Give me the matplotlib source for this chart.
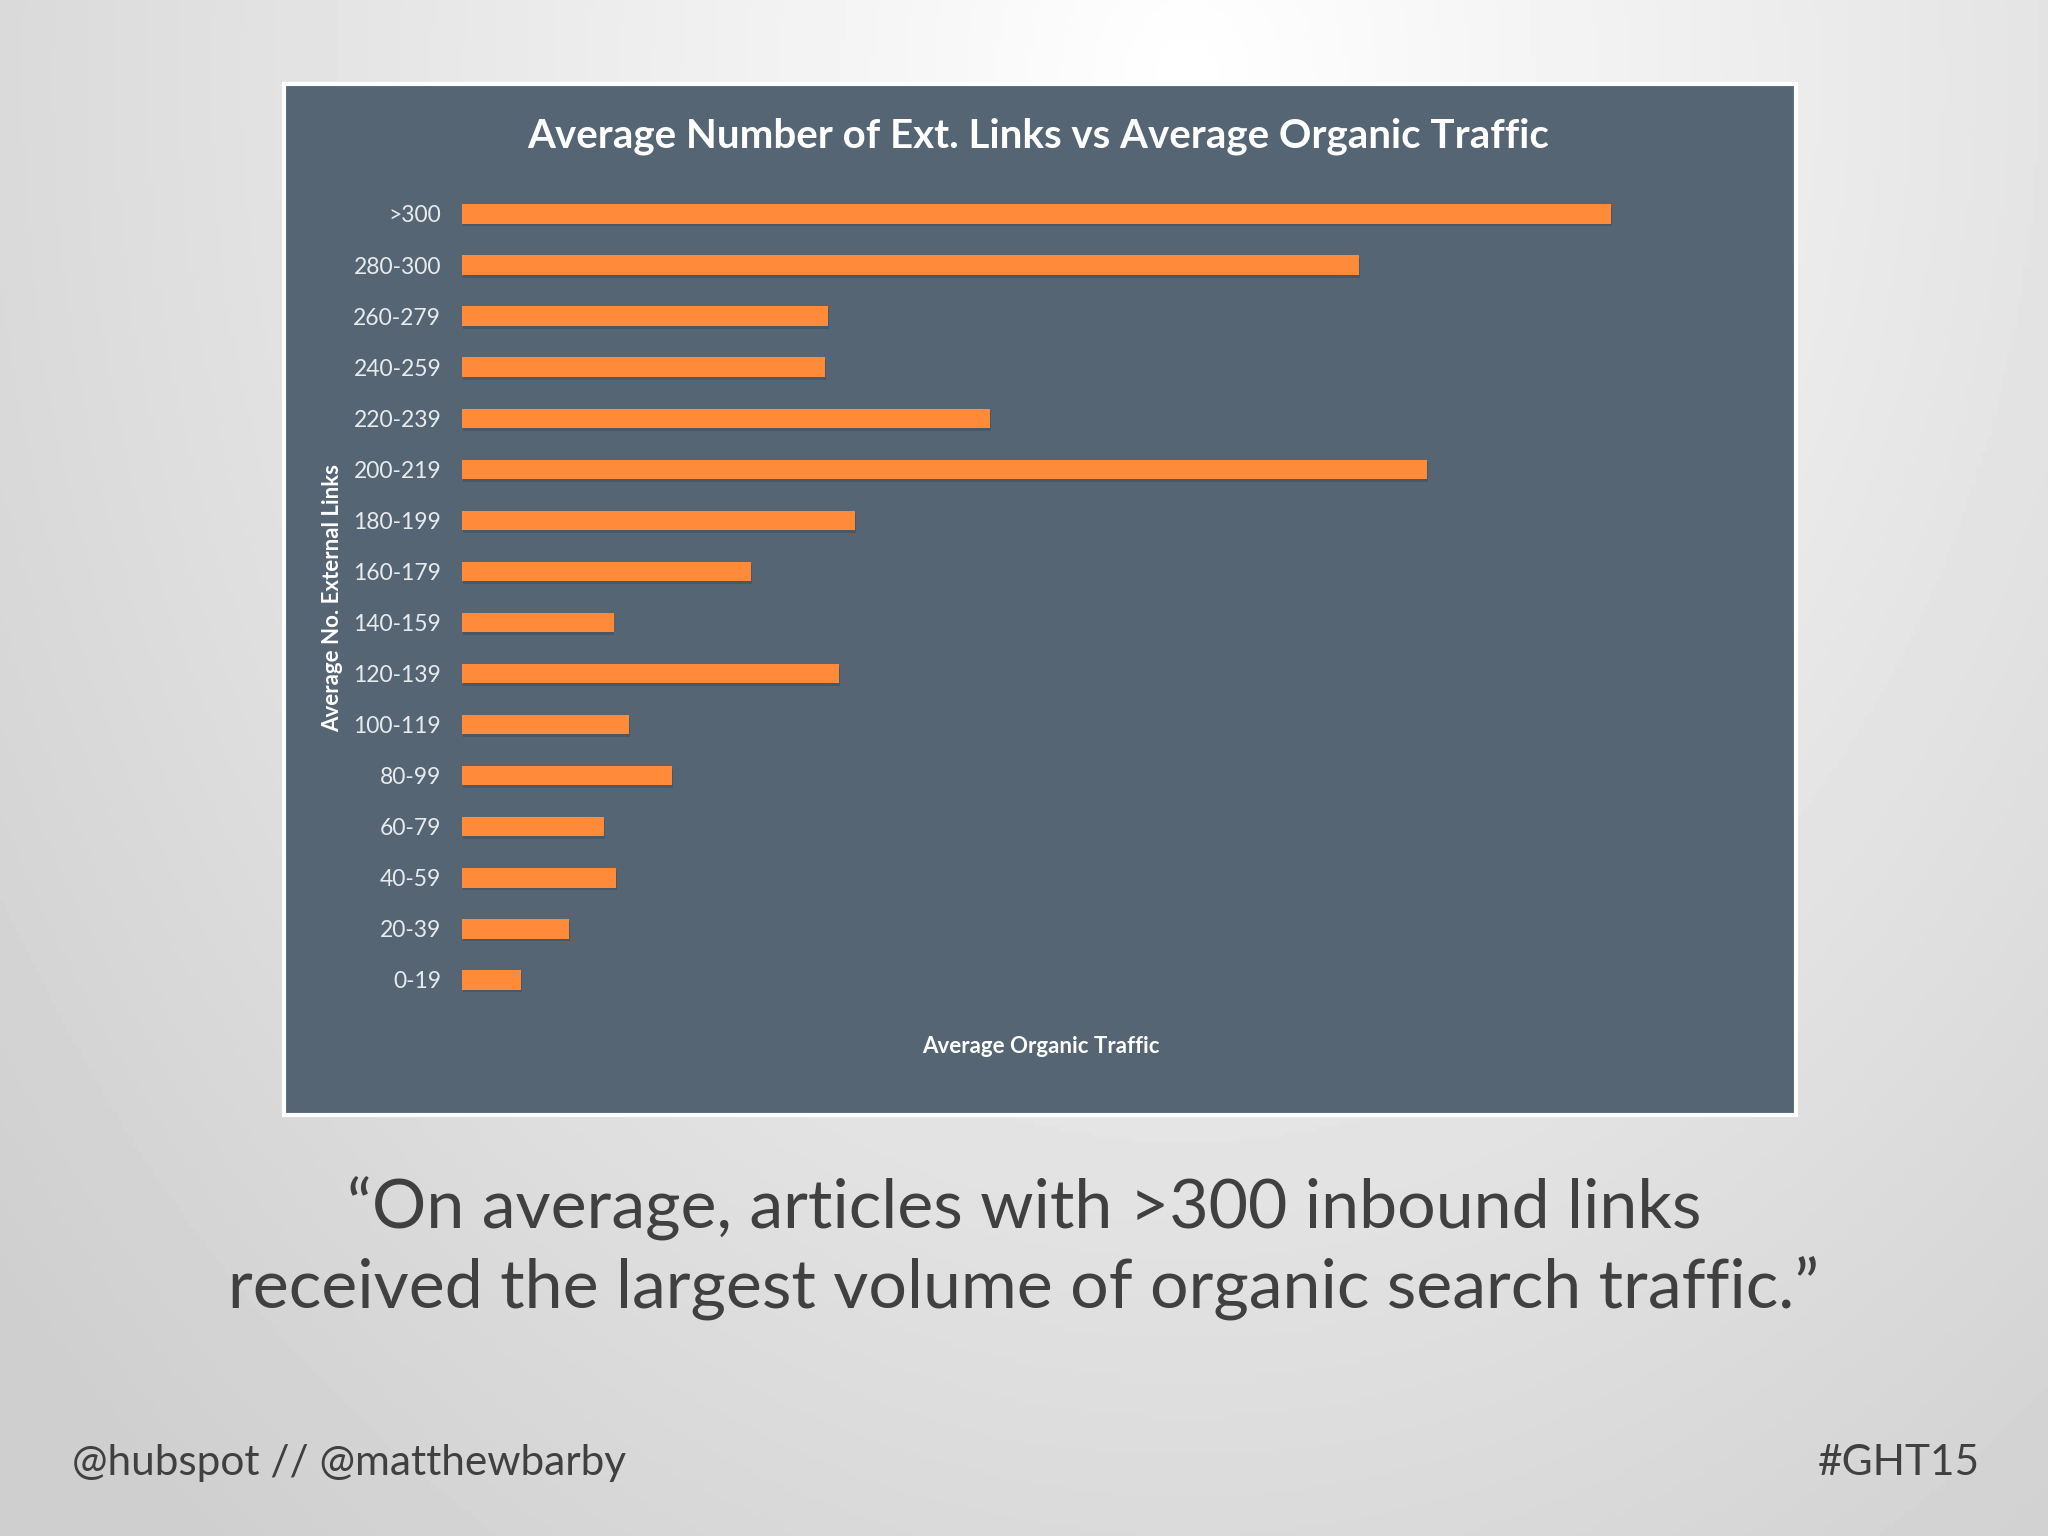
#!/usr/bin/env python3
"""Slide: average number of external links vs average organic traffic."""

import matplotlib

matplotlib.use("Agg")

import matplotlib.patheffects as pe
import matplotlib.pyplot as plt
import numpy as np
from matplotlib.patches import Rectangle

plt.rcParams.update({"font.family": ["Lato", "DejaVu Sans"]})

# data (bottom to top), bar lengths (no axis scale shown)
link_bins = [
    "0-19", "20-39", "40-59", "60-79", "80-99", "100-119", "120-139", "140-159",
    "160-179", "180-199", "200-219", "220-239", "240-259", "260-279", "280-300", ">300",
]
avg_traffic = [45, 82, 118, 109, 161, 128, 289, 116, 221, 301, 739, 404, 278, 280, 687, 880]

title = "Average Number of Ext. Links vs Average Organic Traffic"
ylabel = "Average No. External Links"
xlabel = "Average Organic Traffic"
caption = [
    "\u201cOn average, articles with >300 inbound links",
    "received the largest volume of organic search traffic.\u201d",
]
footer_left = "@hubspot // @matthewbarby"
footer_right = "#GHT15"

PANEL = "#556574"
BAR = "#fe8a3a"
LIGHT = "#e8ebee"
DARK = "#404040"

fig = plt.figure(figsize=(20.48, 15.36), dpi=100)

# slide background: soft radial gradient
bg = fig.add_axes([0, 0, 1, 1], zorder=-1)
xx, yy = np.meshgrid(np.linspace(0, 1, 400), np.linspace(0, 1, 300))
r = np.sqrt(((xx - 0.58) / 0.75) ** 2 + ((yy - 0.05) / 1.25) ** 2)
shade = 1.0 - 0.19 * np.clip(r, 0, 1)
bg.imshow(shade, cmap="gray", vmin=0, vmax=1, extent=(0, 1, 0, 1),
          aspect="auto", origin="upper")
bg.set_xlim(0, 1)
bg.set_ylim(0, 1)
bg.set_axis_off()

# chart panel with thin white border
bg.add_patch(Rectangle((0.1385, 0.2740), 0.7385, 0.6715,
                       facecolor=PANEL, edgecolor="white", linewidth=3))

ax = fig.add_axes([0.2256, 0.3454, 0.6377, 0.5319])
ax.set_facecolor("none")
ypos = np.arange(len(link_bins))
bars = ax.barh(ypos, avg_traffic, height=0.38, color=BAR, zorder=3)
for b in bars:
    b.set_path_effects([pe.SimplePatchShadow(offset=(0.7, -2.0), alpha=0.25,
                                             shadow_rgbFace="#2c3540"), pe.Normal()])
ax.set_xlim(0, 1000)
ax.set_ylim(-0.5, len(link_bins) - 0.5)
ax.set_yticks(ypos)
ax.set_yticklabels(link_bins, color=LIGHT, fontsize=16.5)
ax.set_xticks([])
ax.tick_params(axis="y", length=0, pad=15)
for s in ax.spines.values():
    s.set_visible(False)

fig.text(0.507, 0.9115, title, color="white", fontsize=29, fontweight="bold",
         ha="center", va="center")
fig.text(0.1626, 0.6107, ylabel, color="white", fontsize=16, fontweight="bold",
         rotation=90, ha="center", va="center")
fig.text(0.5083, 0.319, xlabel, color="white", fontsize=16, fontweight="bold",
         ha="center", va="center")

fig.text(0.5, 0.2135, caption[0], color=DARK, fontsize=49, ha="center", va="center")
fig.text(0.5, 0.1615, caption[1], color=DARK, fontsize=49, ha="center", va="center")

fig.text(0.035, 0.0477, footer_left, color=DARK, fontsize=30.5, ha="left", va="center")
fig.text(0.967, 0.0477, footer_right, color=DARK, fontsize=30.5, ha="right", va="center")

fig.savefig("out.png", dpi=100)
